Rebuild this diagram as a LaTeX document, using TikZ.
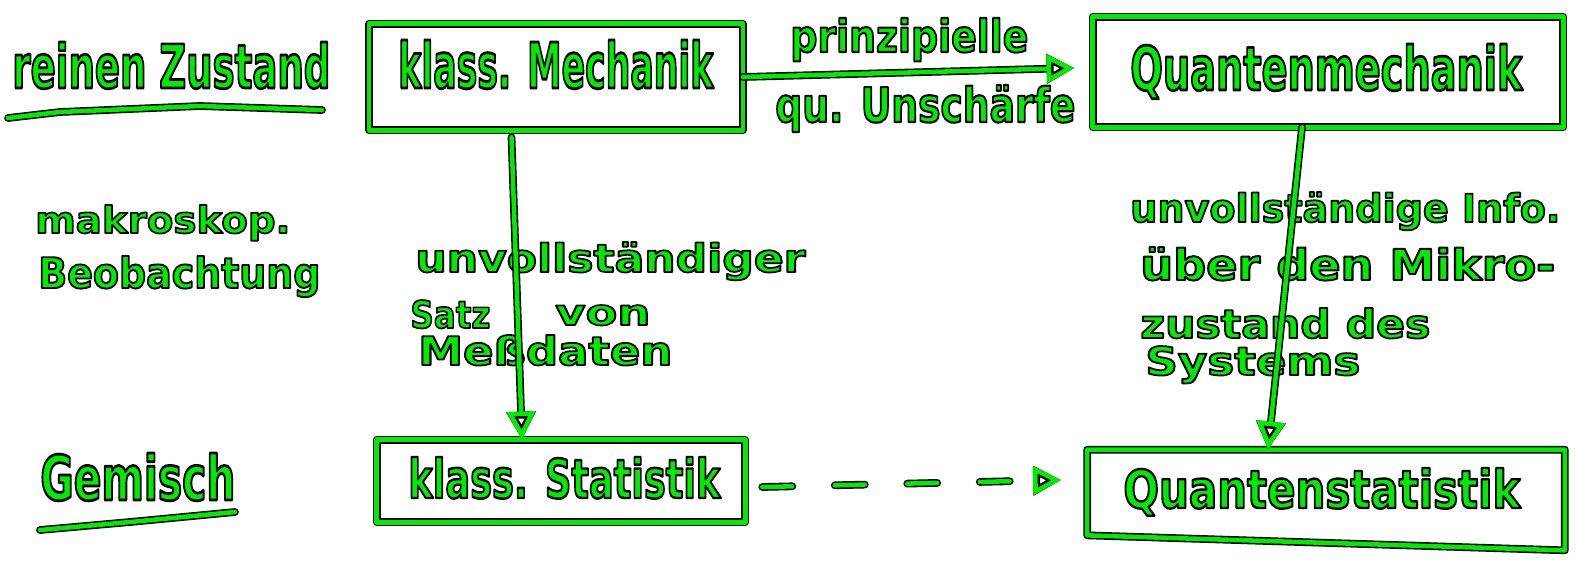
\documentclass[tikz,border=0pt]{standalone}
\usepackage{fontspec}
\setmainfont{DejaVu Sans}
\usepackage{graphicx}
\usetikzlibrary{arrows.meta,calc}
\definecolor{inkgreen}{RGB}{0,235,0}
% green letters with a thin black rim (fill + stroke render mode)
\newcommand\outlined[1]{\special{pdf:literal direct 0 0 0 RG 0.45 w 2 Tr}#1\special{pdf:literal direct 0 Tr}}
% a word squeezed to a given width and ascender height (in 0.02cm units)
\newcommand\hw[3]{\resizebox{\dimexpr0.02cm*#1\relax}{\dimexpr0.02cm*#2\relax}{\outlined{#3}}}
% a stroke drawn twice: black rim below, green ink on top
\newcommand\ink[2]{\draw[black,line width=4.4pt,#1]#2;\draw[inkgreen,line width=2.6pt,#1]#2;}
\tikzset{
  word/.style={inner sep=0pt, anchor=base west, text=inkgreen, font=\bfseries},
  frame/.style={inner sep=0pt, rectangle},
  openhead/.style={-{Triangle[open,length=16pt,width=16pt]}},
  every path/.style={line cap=round, line join=round}
}
\begin{document}
\begin{tikzpicture}[x=0.02cm,y=-0.02cm]
\useasboundingbox (0,0) rectangle (1576,562);

% boxes
\node[frame, minimum width=7.46cm, minimum height=2.12cm] (km) at (556,77) {};
\node[frame, minimum width=9.4cm, minimum height=2.2cm] (qm) at (1328,72) {};
\node[frame, minimum width=7.36cm, minimum height=1.64cm] (ks) at (561,481) {};
\node[frame, minimum width=9.54cm, minimum height=2cm] (qs) at (1326,500) {};

\ink{}{(km.north west) rectangle (km.south east)}
\ink{}{(qm.north west) rectangle (qm.south east)}
\ink{}{(ks.north west) rectangle (ks.south east)}
\ink{}{(qs.north west) -- (qs.north east) -- (qs.south east) -- ([yshift=0.3cm]qs.south west) -- cycle}

% words in the boxes
\node[word] (tkm) at (398,88) {\hw{315}{48}{klass. Mechanik}};
\node[word] (tqm) at (1130,90) {\hw{392}{46}{Quantenmechanik}};
\node[word] (tks) at (408,498) {\hw{312}{41}{klass. Statistik}};
\node[word] (tqs) at (1123,508) {\hw{397}{40}{Quantenstatistik}};

% left column
\node[word] (trz) at (12,88) {\hw{318}{46}{reinen Zustand}};
\node[word] (tmk) at (35,233) {\hw{255}{28}{makroskop.}};
\node[word] (tbb) at (38,288) {\hw{282}{32}{Beobachtung}};
\node[word] (tgm) at (40,500) {\hw{195}{47}{Gemisch}};
\ink{}{(8,118) -- (60,112) -- (200,106) -- (322,110)}
\ink{}{(40,530) -- (130,522) -- (235,512)}

% labels on the upper arrow
\node[word] (tpr) at (790,52) {\hw{238}{34}{prinzipielle}};
\node[word] (tqu) at (775,122) {\hw{300}{37}{qu. Unschärfe}};

% middle labels
\node[word] (tuv) at (415,272) {\hw{390}{30}{unvollständiger}};
\node[word] (tsz) at (410,328) {\hw{80}{28}{Satz}};
\node[word] (tvo) at (555,325) {\hw{95}{20}{von}};
\node[word] (tmd) at (418,365) {\hw{254}{30}{Meßdaten}};

% right labels
\node[word] (tui) at (1130,222) {\hw{430}{30}{unvollständige Info.}};
\node[word] (tub) at (1140,280) {\hw{415}{33}{über den Mikro-}};
\node[word] (tzd) at (1140,338) {\hw{290}{30}{zustand des}};
\node[word] (tsy) at (1145,375) {\hw{215}{29}{Systems}};

% connectors
\ink{openhead}{(km.east) -- ([xshift=-0.36cm,yshift=0.08cm]qm.west)}
\ink{openhead}{([xshift=-0.89cm,yshift=-0.14cm]km.south) -- ([xshift=-0.78cm]ks.north)}
\ink{openhead}{([xshift=-0.52cm]qm.south) -- ([xshift=-1.16cm]qs.north)}
\ink{openhead, dash pattern=on 0.6cm off 0.85cm}{([xshift=0.34cm,yshift=-0.12cm]ks.east) -- ([xshift=-0.52cm,yshift=0.4cm]qs.west)}
\end{tikzpicture}
\end{document}
